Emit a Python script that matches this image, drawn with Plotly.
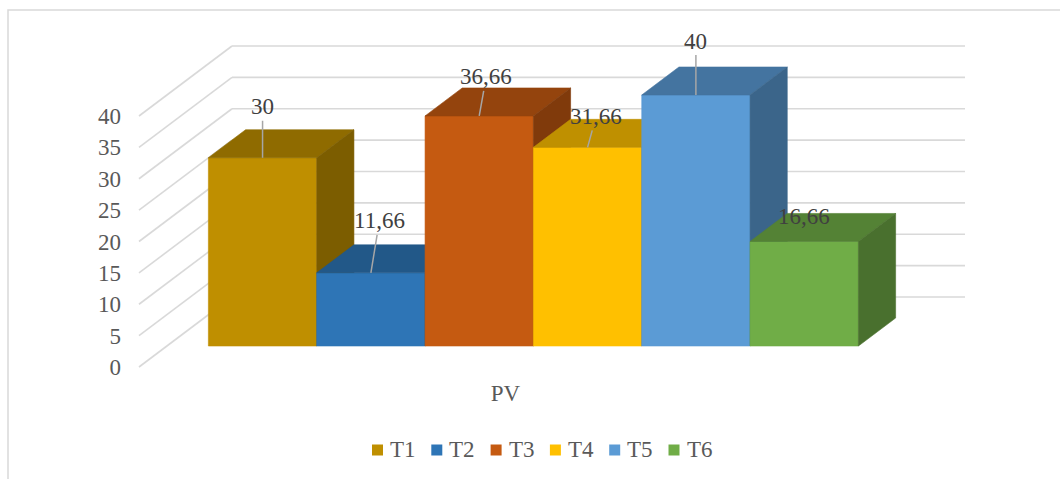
import plotly.graph_objects as go

# ---- data -------------------------------------------------------------
SERIES = ["T1", "T2", "T3", "T4", "T5", "T6"]
VALUES = [30, 11.66, 36.66, 31.66, 40, 16.66]
CATEGORY = "PV"
Y_TICKS = [0, 5, 10, 15, 20, 25, 30, 35, 40]
COLORS = ["#BF8F00", "#2E75B6", "#C55A11", "#FFC000", "#5B9BD5", "#70AD47"]

# data-label offsets from the top-front centre of each bar (pixels)
LABEL_DX = [0, 8.5, 7, 8.5, 0, 0]
LABEL_DY = [-51, -52, -39, -31, -54, -24.5]
LEADER = [True, True, True, True, True, False]

# ---- layout / projection ---------------------------------------------
W, H = 1060, 479
ORIGIN_PX = (139, 367)      # front-left corner of the floor
CAT_PX = 733                # floor width of the category
UNIT_PX = 6.275             # pixels per value unit
DEPTH_PX = (93, 70)         # oblique offset from front to back wall
BAR_DEPTH = (0.3, 0.7)      # bar slab inside the depth
GAP = 0.766                 # gap width relative to bar width

DX = DEPTH_PX[0] / CAT_PX
DY = DEPTH_PX[1] / UNIT_PX

X_RANGE = [-ORIGIN_PX[0] / CAT_PX, (W - ORIGIN_PX[0]) / CAT_PX]
Y_RANGE = [-(H - ORIGIN_PX[1]) / UNIT_PX, ORIGIN_PX[1] / UNIT_PX]

FONT = "Liberation Serif"
GRID = "#d9d9d9"
TEXT = "#595959"
LABEL_TEXT = "#404040"


def proj(x, v, d):
    return x + d * DX, v + d * DY


def shade(hex_color, f):
    h = hex_color.lstrip("#")
    r, g, b = (int(h[i:i + 2], 16) for i in (0, 2, 4))
    return "#%02x%02x%02x" % (round(r * f), round(g * f), round(b * f))


def polygon(points, color):
    xs = [p[0] for p in points] + [points[0][0]]
    ys = [p[1] for p in points] + [points[0][1]]
    return go.Scatter(x=xs, y=ys, mode="lines", fill="toself",
                      fillcolor=color, line=dict(color=color, width=0.6),
                      hoverinfo="skip", showlegend=False)


fig = go.Figure()

# gridlines: left side wall diagonals and back wall horizontals
gx, gy = [], []
for v in Y_TICKS:
    for a, b in ((proj(0, v, 0), proj(0, v, 1)), (proj(0, v, 1), proj(1, v, 1))):
        gx += [a[0], b[0], None]
        gy += [a[1], b[1], None]
fig.add_trace(go.Scatter(x=gx, y=gy, mode="lines",
                         line=dict(color=GRID, width=1.6),
                         hoverinfo="skip", showlegend=False))

# bars (drawn left to right so each one covers the side of the previous)
n = len(VALUES)
bw = 1 / (n + GAP)
margin = GAP * bw / 2
d0, d1 = BAR_DEPTH
annotations = []
for i, (name, v, c) in enumerate(zip(SERIES, VALUES, COLORS)):
    x0 = margin + i * bw
    x1 = x0 + bw
    front = [proj(x0, 0, d0), proj(x1, 0, d0), proj(x1, v, d0), proj(x0, v, d0)]
    top = [proj(x0, v, d0), proj(x1, v, d0), proj(x1, v, d1), proj(x0, v, d1)]
    side = [proj(x1, 0, d0), proj(x1, 0, d1), proj(x1, v, d1), proj(x1, v, d0)]
    fig.add_trace(polygon(front, c))
    fig.add_trace(polygon(top, shade(c, 0.75)))
    fig.add_trace(polygon(side, shade(c, 0.65)))

    tx, ty = proj((x0 + x1) / 2, v, d0)
    label = f"{v:g}".replace(".", ",")
    ann = dict(x=tx, y=ty, xref="x", yref="y", text=label,
               font=dict(family=FONT, size=23, color=LABEL_TEXT))
    if LEADER[i]:
        ann.update(showarrow=True, arrowhead=0, arrowwidth=1.5,
                   arrowcolor="#a6a6a6", ax=LABEL_DX[i], ay=LABEL_DY[i],
                   standoff=0)
    else:
        ann.update(showarrow=False, xshift=LABEL_DX[i], yshift=-LABEL_DY[i])
    annotations.append(ann)

# legend: coloured squares followed by series names
LEG_X0, LEG_STEP, LEG_Y, SQ = 372, 59.3, 450, 11
shapes = [dict(type="rect", xref="paper", yref="paper",
               x0=8 / W, x1=1.05, y0=-0.05, y1=1 - 10 / H,
               line=dict(color=GRID, width=1.5), fillcolor="rgba(0,0,0,0)")]
for k, (name, c) in enumerate(zip(SERIES, COLORS)):
    left = LEG_X0 + k * LEG_STEP
    shapes.append(dict(type="rect", xref="paper", yref="paper",
                       x0=left / W, x1=(left + SQ) / W,
                       y0=1 - (LEG_Y + SQ / 2) / H, y1=1 - (LEG_Y - SQ / 2) / H,
                       line=dict(width=0), fillcolor=c))
    annotations.append(dict(x=(left + SQ + 5) / W, y=1 - (LEG_Y - 1) / H,
                            xref="paper", yref="paper", text=name,
                            xanchor="left", yanchor="middle", showarrow=False,
                            font=dict(family=FONT, size=23, color=TEXT)))

fig.update_layout(
    width=W, height=H,
    margin=dict(l=0, r=0, t=0, b=0),
    paper_bgcolor="white", plot_bgcolor="white",
    showlegend=False,
    shapes=shapes,
    annotations=annotations,
    xaxis=dict(range=X_RANGE, showgrid=False, zeroline=False, showline=False,
               ticks="", tickvals=[0.5], ticktext=[CATEGORY],
               tickfont=dict(family=FONT, size=23, color=TEXT),
               anchor="free", position=1 - 377 / H, fixedrange=True),
    yaxis=dict(range=Y_RANGE, showgrid=False, zeroline=False, showline=False,
               ticks="", tickvals=Y_TICKS,
               tickfont=dict(family=FONT, size=23, color=TEXT),
               anchor="free", position=ORIGIN_PX[0] / W,
               ticklabelstandoff=18, fixedrange=True),
)

fig.write_html("out.html")
